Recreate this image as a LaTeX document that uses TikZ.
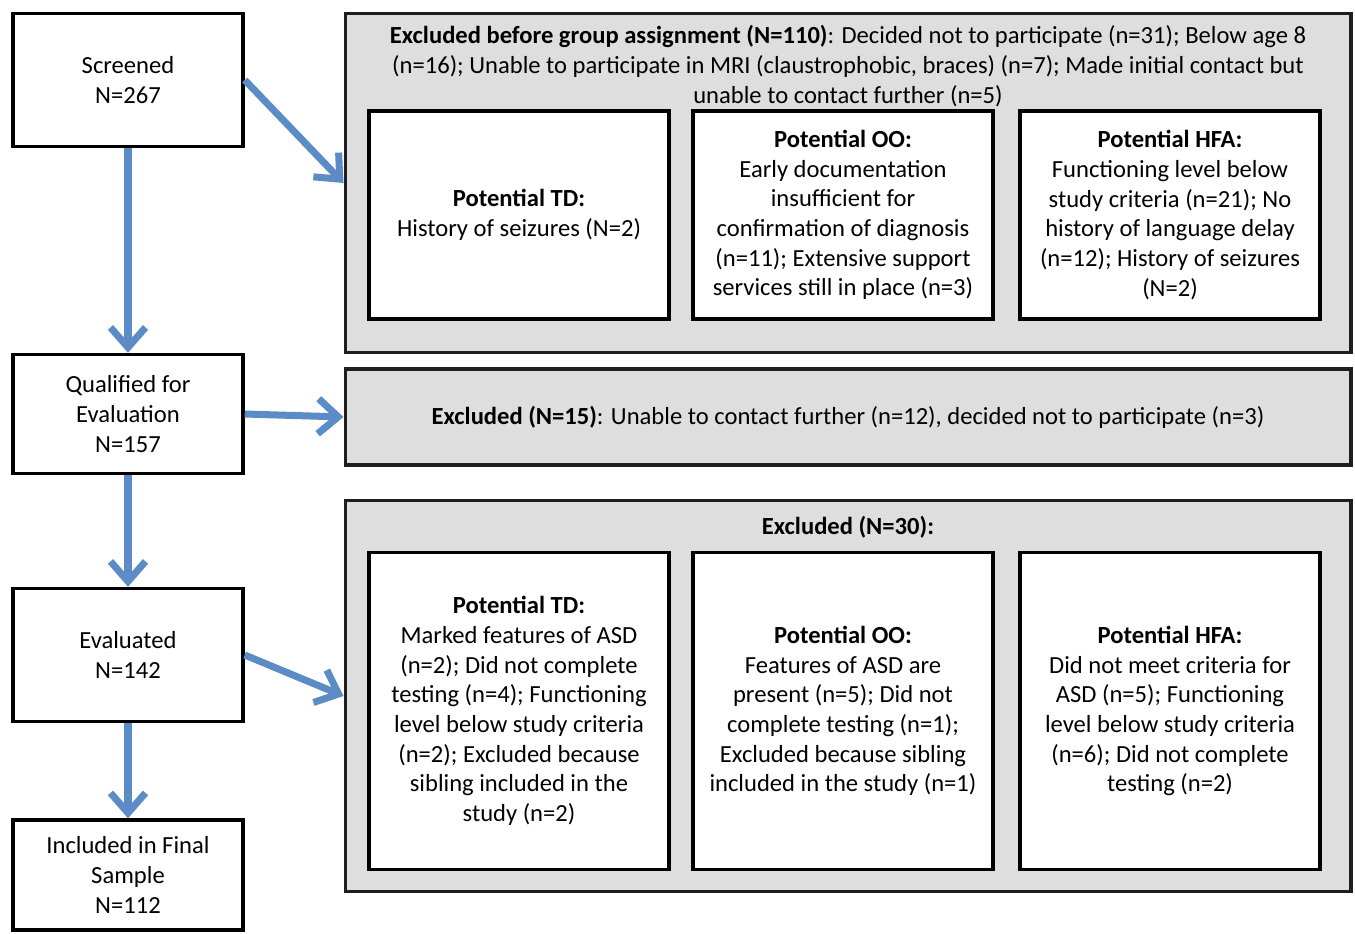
\documentclass[tikz,border=0pt]{standalone}
\usepackage{fontspec}
\setmainfont{Carlito}
\usetikzlibrary{arrows.meta, positioning}
\definecolor{cblue}{HTML}{5B8CC6}
\definecolor{cgrey}{HTML}{DEDEDE}
\definecolor{cdark}{HTML}{1E1E1E}
\tikzset{
  every picture/.style={font=\fontsize{14}{16.9}\selectfont, x=0.02cm, y=-0.02cm},
  box/.style={draw=black, fill=white, line width=2pt, align=center, inner sep=3pt},
  stage/.style={box, minimum width=4.6cm},
  inner/.style={box, line width=1.8pt, minimum width=6cm},
  outer/.style={draw=cdark, fill=cgrey, line width=1.8pt, minimum width=20.12cm, align=center},
  arrow/.style={-{Straight Barb[length=4mm, width=7mm]}, draw=cblue, line width=4pt},
  head/.style={align=center, inner sep=0pt},
}
\begin{document}
\begin{tikzpicture}
  \useasboundingbox (0,0) rectangle (1355,933);
  % left column
  \node[stage, minimum height=2.66cm] (scr) at (128,80) {Screened\\N=267};
  \node[stage, minimum height=2.38cm] (qual) at (128,414) {Qualified for\\Evaluation\\N=157};
  \node[stage, minimum height=2.66cm] (eval) at (128,655) {Evaluated\\N=142};
  \node[stage, minimum height=2.2cm] (incl) at (128,875) {Included in Final\\Sample\\N=112};
  % exclusion boxes
  \node[outer, minimum height=6.78cm] (ex1) at (848,183) {};
  \node[head] (ex1h) at (848,66) {\textbf{Excluded before group assignment (N=110)}: Decided not to participate (n=31); Below age 8\\(n=16); Unable to participate in MRI (claustrophobic, braces) (n=7); Made initial contact but\\unable to contact further (n=5)};
  \node[inner, minimum height=4.16cm] (td1) at (519,215) {\textbf{Potential TD:}\\History of seizures (N=2)};
  \node[inner, minimum height=4.16cm] (oo1) at (843,215) {\textbf{Potential OO:}\\Early documentation\\insufficient for\\confirmation of diagnosis\\(n=11); Extensive support\\services still in place (n=3)};
  \node[inner, minimum height=4.16cm] (hfa1) at (1170,215) {\textbf{Potential HFA:}\\Functioning level below\\study criteria (n=21); No\\history of language delay\\(n=12); History of seizures\\(N=2)};
  \node[outer, minimum height=1.92cm] (ex2) at (848,417) {\textbf{Excluded (N=15)}: Unable to contact further (n=12), decided not to participate (n=3)};
  \node[outer, minimum height=7.82cm] (ex3) at (848,696) {};
  \node[head] (ex3h) at (848,527) {\textbf{Excluded (N=30):}};
  \node[inner, minimum height=6.34cm] (td3) at (519,711) {\textbf{Potential TD:}\\Marked features of ASD\\(n=2); Did not complete\\testing (n=4); Functioning\\level below study criteria\\(n=2); Excluded because\\sibling included in the\\study (n=2)};
  \node[inner, minimum height=6.34cm] (oo3) at (843,711) {\textbf{Potential OO:}\\Features of ASD are\\present (n=5); Did not\\complete testing (n=1);\\Excluded because sibling\\included in the study (n=1)};
  \node[inner, minimum height=6.34cm] (hfa3) at (1170,711) {\textbf{Potential HFA:}\\Did not meet criteria for\\ASD (n=5); Functioning\\level below study criteria\\(n=6); Did not complete\\testing (n=2)};
  % arrows
  \foreach \a/\b in {scr/qual, qual/eval, eval/incl} {\draw[arrow] (\a) -- (\b);}
  \draw[arrow] (scr.east) -- (ex1.west);
  \draw[arrow] (qual.east) -- (ex2.west);
  \draw[arrow] (eval.east) -- (ex3.west);
\end{tikzpicture}
\end{document}
